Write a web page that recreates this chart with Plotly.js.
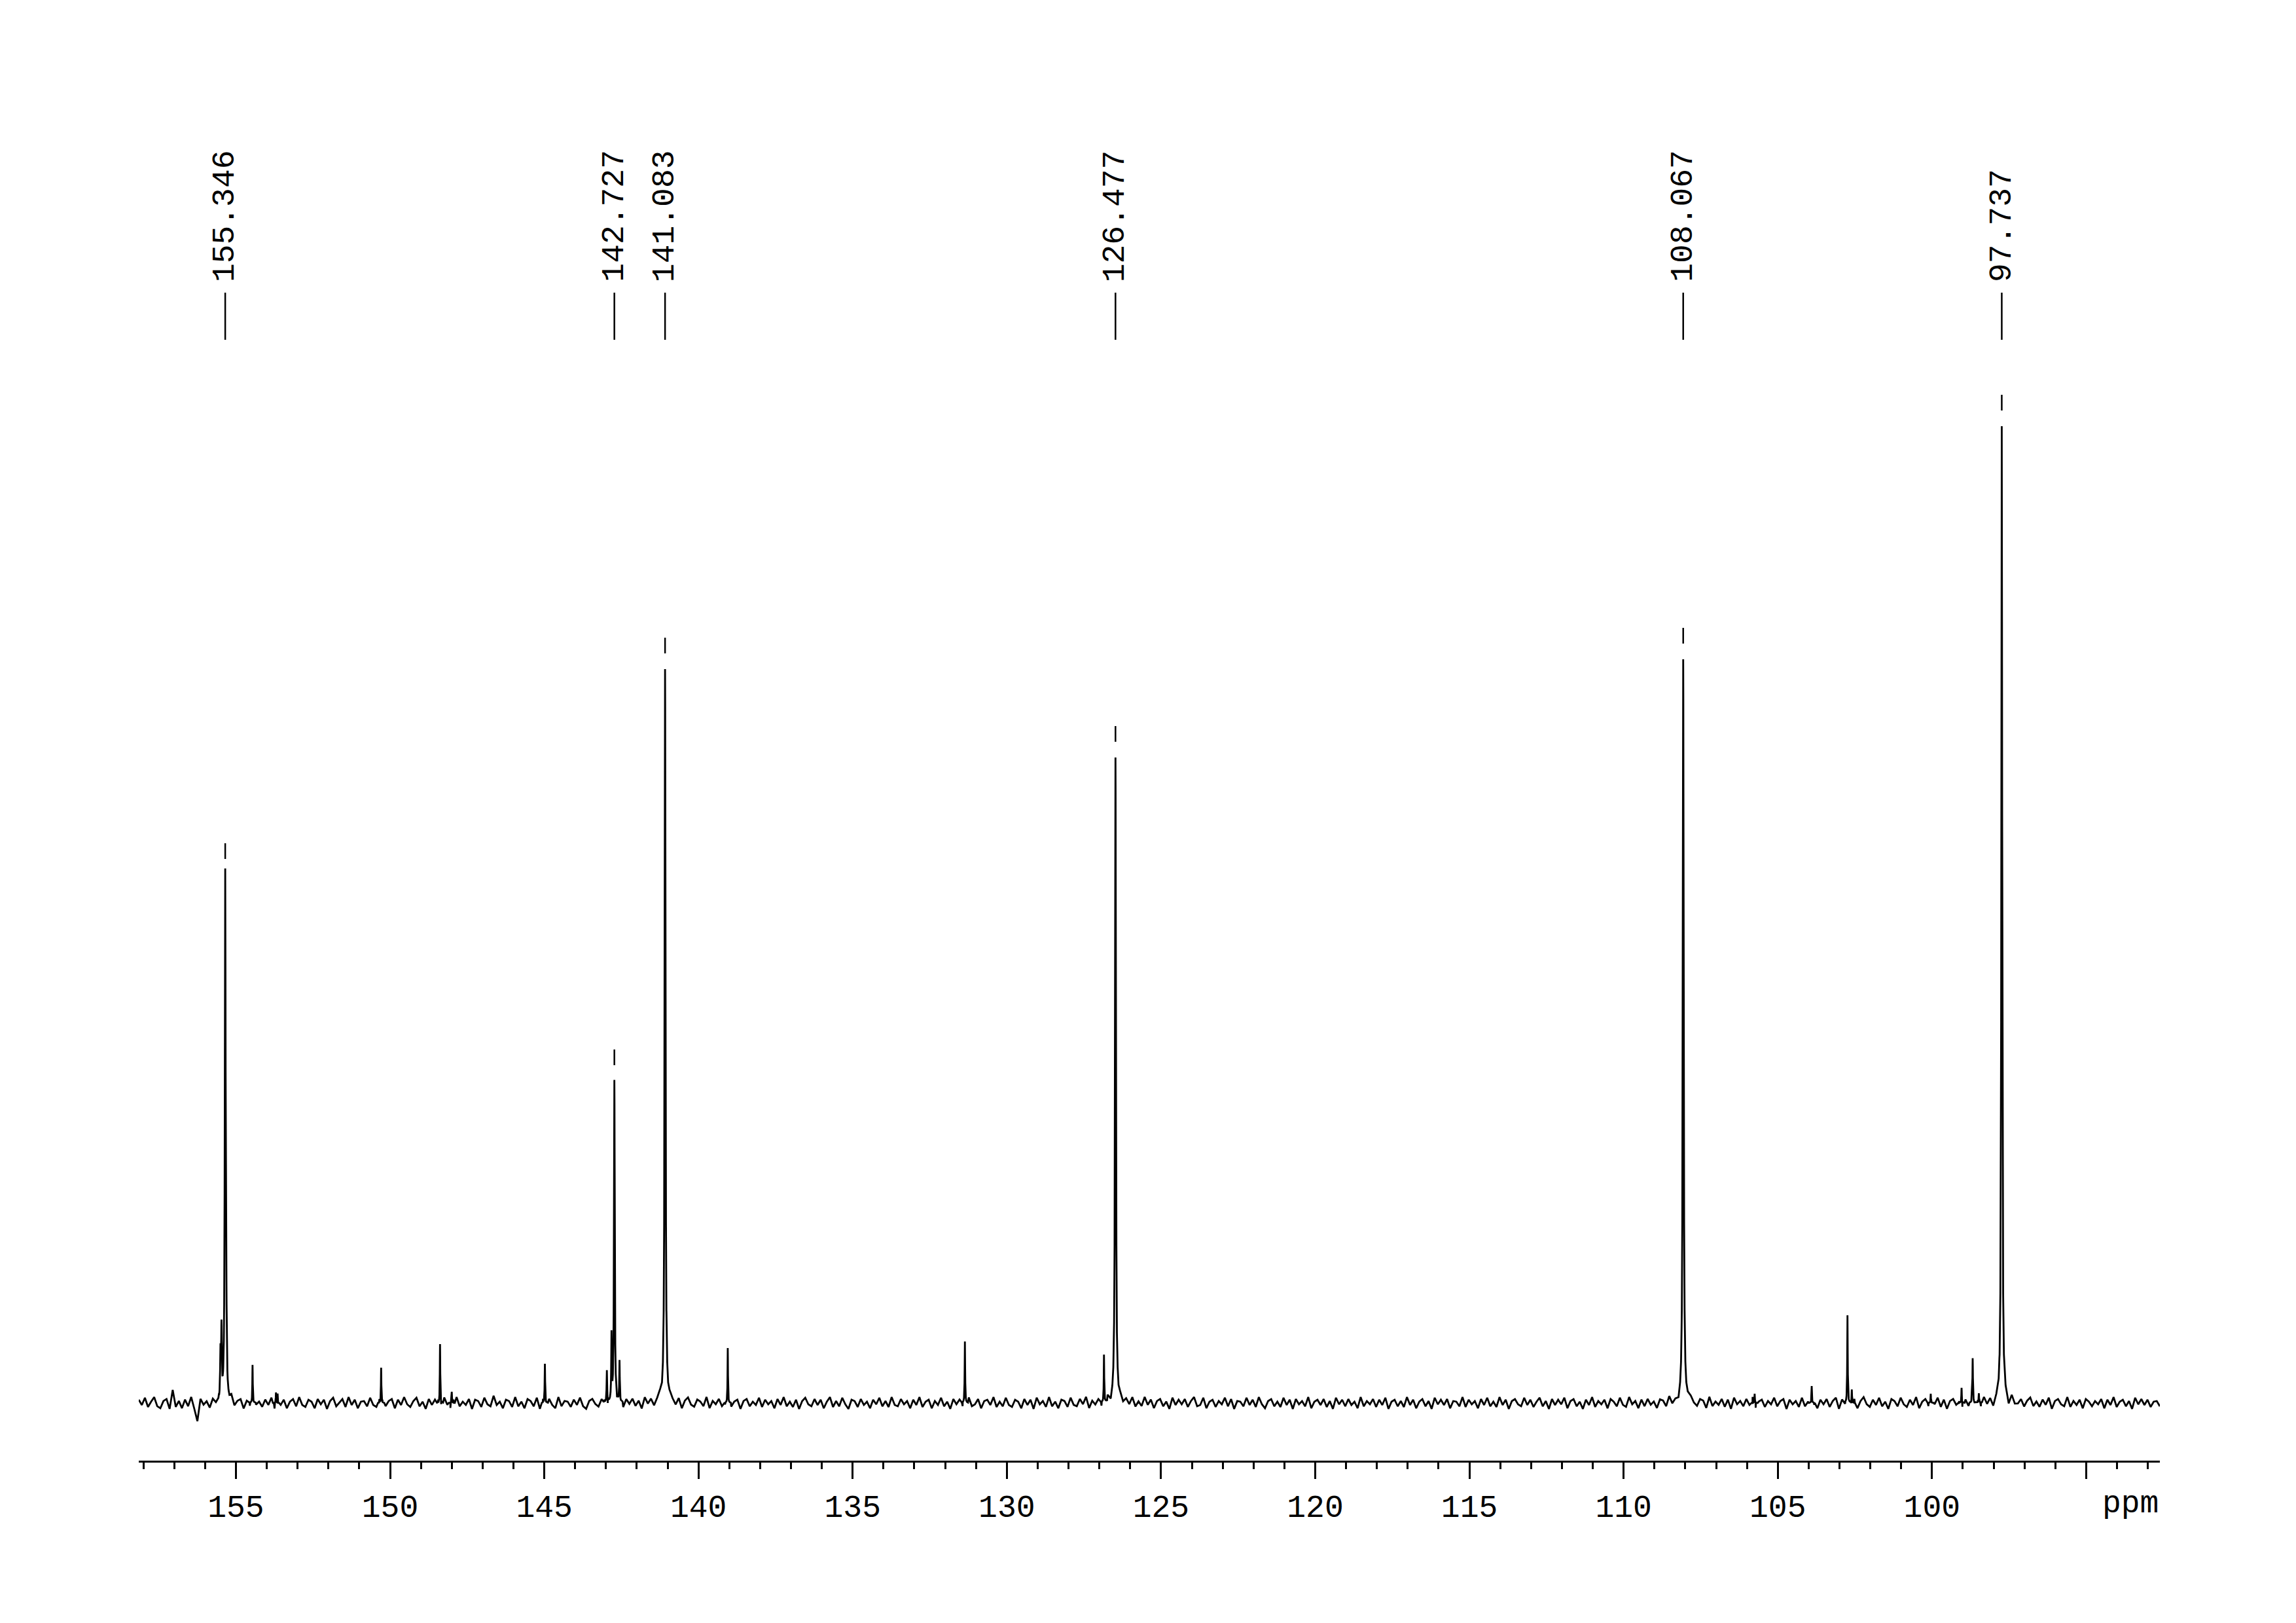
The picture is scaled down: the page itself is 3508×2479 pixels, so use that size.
<!DOCTYPE html>
<html><head><meta charset="utf-8">
<script src="https://cdn.plot.ly/plotly-3.0.1.min.js"></script>
<style>html,body{margin:0;padding:0;background:#fff}</style>
</head><body><div id="chart" style="width:3508px;height:2479px"></div>
<script>
// ---- data ----
const ppmStart = 158.15, ppmEnd = 92.61;           // spectral window shown (ppm)
const labelPpm = [155.346, 142.727, 141.083, 126.477, 108.067, 97.737];
const peakPpm = [155.346, 142.727, 141.083, 126.477, 108.067, 97.737,
  155.50, 155.467, 155.31, 154.46, 153.70, 150.29, 148.38, 148.00, 144.98,
  142.97, 142.82, 142.56, 139.05, 131.36, 126.85, 105.75, 103.90, 102.74,
  102.60, 100.04, 99.04, 98.68, 98.48];
const peakHeight = [807, 492, 1121, 986, 1136, 1492,
  70, 105, 80, 58, 16, 54, 90, 17, 60,
  48, 100, 62, 84, 94, 72, 14, 26, 134,
  20, 14, 23, 68, 14];
const peakWidth = [0.016, 0.014, 0.017, 0.017, 0.017, 0.016,
  0.012, 0.012, 0.012, 0.008, 0.008, 0.008, 0.008, 0.008, 0.009,
  0.010, 0.010, 0.009, 0.008, 0.009, 0.008, 0.008, 0.008, 0.009,
  0.008, 0.008, 0.008, 0.009, 0.008];
const noise = [
5,-3,8,-6,2,9,-5,-8,3,6,-9,20,-6,3,-8,5,-5,9,-9,-28,6,-3,2,-8,5,-2,3,-5,6,-3,8,-6,2,5,-9,3,-5,6,-3,2,-6,
5,-3,8,-9,14,-3,5,-8,2,6,-5,9,-3,-6,5,2,-8,6,-2,5,-9,3,8,-5,0,6,-6,9,-3,5,-8,2,3,-5,8,-3,-6,5,2,-5,3,
6,-8,5,-3,9,-2,-6,3,8,-5,2,-9,6,-3,5,2,-6,8,-3,-8,5,9,-5,2,-3,6,-9,5,3,-6,8,-2,-5,11,-3,2,-8,5,3,-6,9,
-5,2,-8,6,3,-5,8,-9,5,-2,6,-3,-8,9,-5,3,2,-6,5,-3,8,-5,-9,3,6,-2,-6,5,3,-8,2,6,-5,3,-8,5,-2,6,-5,3,-9,
8,-2,5,-6,3,9,-3,-8,5,2,-5,6,-9,3,8,-3,-6,5,2,-5,9,-8,3,-2,6,-5,-3,8,-6,2,5,-9,3,6,-5,2,-3,8,-6,5,-2,
3,-8,6,-3,9,-5,2,-6,5,-9,3,8,-2,-5,6,-3,5,-8,2,9,-6,3,-5,8,-2,-9,5,3,-6,6,-3,2,-8,5,-2,8,-5,3,-6,9,-3,
-5,6,-2,3,-8,5,-3,9,-6,2,5,-8,3,-3,8,-5,2,-9,6,-2,5,-6,3,8,-5,-2,6,-8,3,5,-3,9,-6,2,-5,8,-3,-6,5,2,-8,
6,-3,5,-9,8,-2,3,-6,9,-5,2,-8,5,3,-6,8,-3,-5,6,-2,9,-8,3,-3,5,-6,2,8,-5,3,-9,6,-2,5,-3,8,-6,2,-5,9,-3,
5,-8,3,6,-5,2,-9,8,-3,5,-2,6,-6,3,9,-5,-3,8,-8,2,5,-6,3,-2,8,-5,6,-9,3,2,-5,8,-3,5,-6,9,-2,-8,3,6,-5,
2,-6,8,-3,5,-9,6,-2,3,-5,9,-8,2,5,-3,6,-6,3,-9,8,-2,5,-5,6,-3,2,-8,9,-5,3,-2,6,-6,5,-3,8,-9,2,5,-5,3,
-6,9,-3,5,-8,2,6,-5,3,-9,8,-2,5,-3,6,-8,3,2,-5,9,-6,5,-2,3,-8,6,-3,8,-5,2,-6,9,-3,5,-9,3,6,-2,-5,8,-3,
5,-6,2,8,-5,3,-9,6,-3,5,-2,8,-8,3,6,-5,2,-9,5,-3,9,-6,3,-2,5,-8,6,2,-5,8,-3,-6,9,-2,3,-8,5,-5,6,-3,2,
-8,5,3,-6,9,-3,2,-5,8,-9,3,6,-2,-6,5,3,-8,9,-5,2,-3,6,-6,5,-9,8,-2,3,-5,6,-3,9,-8,2,5,-6,3,-2,8,-5,3,
6,-9,5,-2,3,-6,8,-5,2,9,-3,-8,5,-2,6,-6,3,8,-9,5,-3,2,-5,6,-8,3,9,-2,-6,5,-3,8,-5,2,-9,6,3,-5,8,-2,-6,
5,-3,9,-8,2,6,-5,3,-2,8,-6,5,-9,3,6,-3,2,-8,5,-5,9,-2,3,-6,8,-3,5,-9,2,6,-5,3,-8,9,-3,-2,5,-6,3,8,-5,
2,-6,5,-3,8,-9,3,6,-2,-5,9,-6,3,-3,5,-8,6,2,-5,3,-2,6,-8,5,-3,9,-6,2,5,-5,3,-9,8,-2,6,-3,5,-6,2,3,-5];
const majorTicks = [155, 150, 145, 140, 135, 130, 125, 120, 115, 110, 105, 100, 95];
const majorLabels = ['155','150','145','140','135','130','125','120','115','110','105','100',''];
const unitLabel = 'ppm';

// ---- build the trace ----
function lineShape(x) {
  let s = 0;
  for (let k = 0; k < peakPpm.length; k++) {
    const g = peakWidth[k], d = x - peakPpm[k];
    s += peakHeight[k] * g * g / (g * g + d * d);
  }
  return s;
}
const pts = [];
const stepPpm = (ppmStart - ppmEnd) / (noise.length - 1);
noise.forEach((n, i) => { const x = ppmStart - i * stepPpm; pts.push([x, n + lineShape(x)]); });
const offs = [0, 0.004, 0.008, 0.013, 0.02, 0.03, 0.045, 0.07, 0.1];
peakPpm.forEach(p => offs.forEach(o => {
  [p - o, p + o].forEach(x => pts.push([x, lineShape(x)]));
}));
pts.sort((a, b) => b[0] - a[0]);
const specX = pts.map(p => p[0]), specY = pts.map(p => p[1]);

// peak-pick markers and label leader lines
const mkX = [], mkY = [], ldX = [], ldY = [];
labelPpm.forEach(p => {
  const h = peakHeight[peakPpm.indexOf(p)];
  mkX.push(p, p, null); mkY.push(h + 24, h + 48, null);
  ldX.push(p, p, null); ldY.push(1624, 1696, null);
});

const minorTicks = [];
for (let v = 158; v >= 93; v--) if (v % 5 !== 0) minorTicks.push(v);

const font = {family: 'Liberation Mono, Courier New, monospace', size: 48, color: '#000'};
const annotations = labelPpm.map(p => ({
  x: p, y: 1710, xref: 'x', yref: 'y', text: p.toFixed(3), textangle: -90,
  showarrow: false, xanchor: 'center', yanchor: 'bottom', font: font
}));
annotations.push({x: 1, xref: 'paper', xanchor: 'right', y: -0.036, yref: 'paper',
  yanchor: 'middle', text: unitLabel, showarrow: false, font: font});

const data = [
  {x: specX, y: specY, type: 'scatter', mode: 'lines', line: {color: '#000', width: 2.8}, hoverinfo: 'skip'},
  {x: mkX, y: mkY, type: 'scatter', mode: 'lines', line: {color: '#000', width: 2.5}, hoverinfo: 'skip'},
  {x: ldX, y: ldY, type: 'scatter', mode: 'lines', line: {color: '#000', width: 2.5}, hoverinfo: 'skip'}
];
const layout = {
  width: 3508, height: 2479, showlegend: false,
  paper_bgcolor: '#fff', plot_bgcolor: '#fff',
  margin: {l: 212, r: 208, t: 400, b: 248, autoexpand: false},
  xaxis: {range: [ppmStart, ppmEnd], showline: true, linewidth: 3, linecolor: '#000',
    ticks: 'outside', ticklen: 25, tickwidth: 3, tickcolor: '#000',
    tickmode: 'array', tickvals: majorTicks, ticktext: majorLabels, tickfont: font,
    showgrid: false, zeroline: false,
    minor: {tickmode: 'array', tickvals: minorTicks, ticks: 'outside', ticklen: 10, tickwidth: 3, tickcolor: '#000', showgrid: false}},
  yaxis: {range: [-88, 1743], visible: false, showgrid: false, zeroline: false},
  annotations: annotations
};
Plotly.newPlot('chart', data, layout, {staticPlot: true});
</script></body></html>
